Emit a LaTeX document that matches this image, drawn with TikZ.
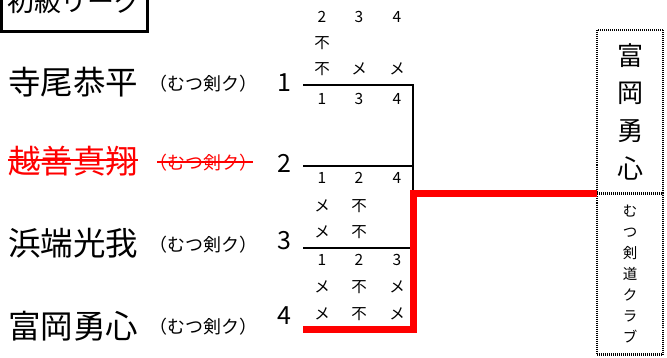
\documentclass[tikz,border=0pt]{standalone}
\usepackage{fontspec}
\setmainfont{Noto Sans CJK JP}
\usetikzlibrary{positioning,calc}
\definecolor{paper}{HTML}{FFFFFF}
\definecolor{ink}{HTML}{000000}
\definecolor{out}{HTML}{FF0000}
\newcommand{\NameX}{8}
\newcommand{\ClubX}{149}
\newcommand{\SeedX}{284}
\newcommand{\LineX}{303}
\newcommand{\PostX}{413}
\newcommand{\ColA}{322}
\newcommand{\ColB}{359}
\newcommand{\ColC}{397}
\newcommand{\BoxX}{597}

\begin{document}
\begin{tikzpicture}[x=1pt, y=-1pt, ink,
    titlebox/.style={draw=ink, line width=3pt, minimum width=146, minimum height=60, inner sep=0pt, font=\fontsize{27}{27}\selectfont},
    player/.style={anchor=west, inner sep=0pt, font=\fontsize{32.5}{32.5}\selectfont},
    club/.style={anchor=west, inner sep=0pt, font=\fontsize{18}{18}\selectfont},
    seed/.style={inner sep=0pt, font=\fontsize{25}{25}\selectfont},
    tally/.style={inner sep=0pt, font=\fontsize{15.5}{15.5}\selectfont},
    bout/.style={draw=ink, line width=2.5pt},
    winline/.style={draw=out, line width=7pt, line join=miter},
    strike/.style={draw=out, line width=1.8pt},
    dotbox/.style={draw=ink, line width=2.5pt, dash pattern=on 1pt off 1pt, minimum width=66, inner sep=0pt, outer sep=0pt, align=center, anchor=north west},
  ]
\useasboundingbox (0,0) rectangle (667,358);
\clip (0,0) rectangle (667,358);

\node[titlebox] (title) at (74.5, 1.5) {初級リーグ};

% --- The four players ---------------------------------------------------------
\node[player] (p1) at (\NameX, 82) {寺尾恭平};
\node[club] (c1) at (\ClubX, 84) {（むつ剣ク）};
\node[seed] (s1) at (\SeedX, 83) {1};

\node[player, text=out] (p2) at (\NameX, 161) {越善真翔};
\node[club, text=out] (c2) at (\ClubX, 163) {（むつ剣ク）};
\node[seed] (s2) at (\SeedX, 163) {2};
\draw[strike] ($(p2.west)+(0,-1)$) -- ($(p2.east)+(0,-1)$);
\draw[strike] ($(c2.west)+(8,-1)$) -- ($(c2.east)+(-4,-1)$);

\node[player] (p3) at (\NameX, 243) {浜端光我};
\node[club] (c3) at (\ClubX, 245) {（むつ剣ク）};
\node[seed] (s3) at (\SeedX, 241) {3};

\node[player] (p4) at (\NameX, 326) {富岡勇心};
\node[club] (c4) at (\ClubX, 327) {（むつ剣ク）};
\node[seed] (s4) at (\SeedX, 316) {4};

% --- Who met whom, and how ------------------------------------------------------
\foreach \y/\a/\b/\c in {17/2/3/4, 43/不//, 69/不/メ/メ, 99/1/3/4,
                         178/1/2/4, 206/メ/不/, 232/メ/不/,
                         260/1/2/3, 287/メ/不/メ, 314/メ/不/メ} {
  \node[tally] (g\y-1) at (\ColA, \y) {\a};
  \node[tally] (g\y-2) at (\ColB, \y) {\b};
  \node[tally] (g\y-3) at (\ColC, \y) {\c};
}

% --- The bracket ------------------------------------------------------------------
\coordinate (a1) at (\LineX, 85);
\coordinate (a2) at (\LineX, 166);
\coordinate (a3) at (\LineX, 248);
\coordinate (a4) at (\LineX, 329);
\coordinate (turn) at (\PostX, 193.5);
\draw[bout] (a1) -| (turn);
\draw[bout] (a2) -- (a2 -| turn);
\draw[bout] (a3) -- (a3 -| turn);

% --- The winner -------------------------------------------------------------------
\node[dotbox, minimum height=163.5, font=\fontsize{26}{37.7}\selectfont] (top) at (\BoxX, 30) {富\\岡\\勇\\心};
\node[dotbox, minimum height=161, font=\fontsize{14.5}{21}\selectfont] (bottom) at (top.south west) {む\\つ\\剣\\道\\ク\\ラ\\ブ};
\draw[winline] (a4) -| (turn) -- (top.south west);

\end{tikzpicture}
\end{document}
